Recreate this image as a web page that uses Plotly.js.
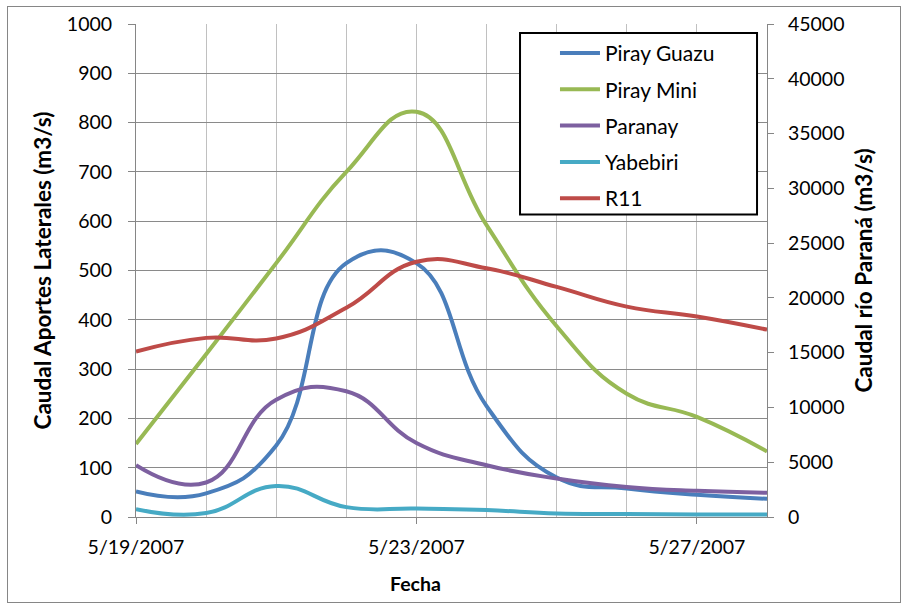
<!DOCTYPE html>
<html>
<head>
<meta charset="utf-8">
<script src="https://cdn.plot.ly/plotly-3.0.1.min.js"></script>
<style>
  html, body { margin: 0; padding: 0; background: #ffffff; }
  #wrap { position: relative; width: 902px; height: 605px; }
  #chart { width: 902px; height: 605px; }
  #frame { position: absolute; left: 7px; top: 6px; width: 894px; height: 597px;
           border: 1px solid #868686; pointer-events: none; box-sizing: border-box; }
</style>
</head>
<body>
<div id="wrap">
  <div id="chart"></div>
  <div id="frame"></div>
</div>
<script>
// ---- data ----
var fechas = ['2007-05-19', '2007-05-20', '2007-05-21', '2007-05-22', '2007-05-23',
              '2007-05-24', '2007-05-25', '2007-05-26', '2007-05-27', '2007-05-28'];
var pirayGuazu = [52, 48, 145, 515, 515, 225, 80, 58, 45, 37];
var pirayMini  = [148, 330, 515, 700, 822, 592, 387, 250, 203, 133];
var paranay    = [105, 70, 238, 255, 150, 105, 78, 61, 53, 49];
var yabebiri   = [16, 8, 63, 20, 17, 14, 7, 6, 5, 5];
var r11        = [15100, 16350, 16300, 19100, 23300, 22700, 21000, 19200, 18300, 17100];

var seriesNames = ['Piray Guazu', 'Piray Mini', 'Paranay', 'Yabebiri', 'R11'];
var colores = ['#4a7ebb', '#98b954', '#7d60a0', '#46aac5', '#be4b48'];
var leftTicks = [0, 100, 200, 300, 400, 500, 600, 700, 800, 900, 1000];
var rightTicks = [0, 5000, 10000, 15000, 20000, 25000, 30000, 35000, 40000, 45000];
var xTitle = 'Fecha';
var yTitle = 'Caudal Aportes Laterales (m3/s)';
var y2Title = 'Caudal río Paraná (m3/s)';

var FONT = 'Lato, "Open Sans", sans-serif';
var valores = [pirayGuazu, pirayMini, paranay, yabebiri, r11];

var traces = valores.map(function (v, i) {
  return {
    x: fechas, y: v, name: seriesNames[i], type: 'scatter', mode: 'lines',
    yaxis: i === 4 ? 'y2' : 'y',
    legendgroup: 'g' + i,
    line: { color: colores[i], width: 4, shape: 'spline', smoothing: 1.3 }
  };
});

var tickFont = { family: FONT, size: 19.5, color: '#000000' };
var titleFont = { family: FONT, size: 22.5, color: '#000000', weight: 'bold' };

var layout = {
  width: 902, height: 605,
  margin: { l: 136, r: 135, t: 24, b: 88, pad: 0 },
  paper_bgcolor: '#ffffff', plot_bgcolor: '#ffffff',
  font: { family: FONT, size: 19, color: '#000000' },
  showlegend: true,
  legend: {
    x: 0.664, y: 0.982, xanchor: 'left', yanchor: 'top',
    bgcolor: 'rgba(0,0,0,0)', borderwidth: 0,
    font: { family: FONT, size: 21, color: '#000000' },
    tracegroupgap: 6, itemwidth: 40
  },
  xaxis: {
    type: 'date',
    range: ['2007-05-19', '2007-05-28'],
    tick0: '2007-05-19', dtick: 4 * 86400000,
    tickformat: '%-m/%-d/%Y',
    ticks: 'outside', ticklen: 6, tickcolor: '#868686',
    ticklabelstandoff: 7,
    showline: true, linecolor: '#868686', linewidth: 1,
    showgrid: true, gridcolor: '#c0c0c0', gridwidth: 1,
    minor: { dtick: 86400000, showgrid: true, gridcolor: '#c0c0c0', gridwidth: 1, ticks: '' },
    zeroline: false,
    tickfont: tickFont,
    automargin: false
  },
  yaxis: {
    range: [0, 1000], tickvals: leftTicks,
    ticks: 'outside', ticklen: 7, tickcolor: '#868686',
    ticklabelstandoff: 12,
    showline: true, linecolor: '#868686', linewidth: 1,
    showgrid: true, gridcolor: '#8a8a8a', gridwidth: 1, zeroline: false,
    tickfont: tickFont,
    title: { text: yTitle, standoff: 8, font: titleFont },
    automargin: false
  },
  yaxis2: {
    overlaying: 'y', side: 'right',
    range: [0, 45000], tickvals: rightTicks, tickformat: 'd',
    ticks: 'outside', ticklen: 6, tickcolor: '#868686',
    ticklabelstandoff: 10,
    showline: true, linecolor: '#868686', linewidth: 1,
    showgrid: false, zeroline: false,
    tickfont: tickFont,
    title: { text: y2Title, standoff: 12, font: titleFont },
    automargin: false
  },
  annotations: [{
    text: '<b>' + xTitle + '</b>', xref: 'paper', yref: 'paper',
    x: 0.4437, y: -0.134, xanchor: 'center', yanchor: 'middle', showarrow: false,
    font: { family: FONT, size: 19.5, color: '#000000' }
  }],
  shapes: [{
    type: 'rect', xref: 'paper', yref: 'paper', layer: 'above',
    x0: 0.6086, x1: 0.9842, y0: 0.6136, y1: 0.9817,
    fillcolor: '#ffffff', line: { color: '#000000', width: 2 }
  }]
};

Plotly.newPlot('chart', traces, layout, { displayModeBar: false, staticPlot: true });
</script>
</body>
</html>
